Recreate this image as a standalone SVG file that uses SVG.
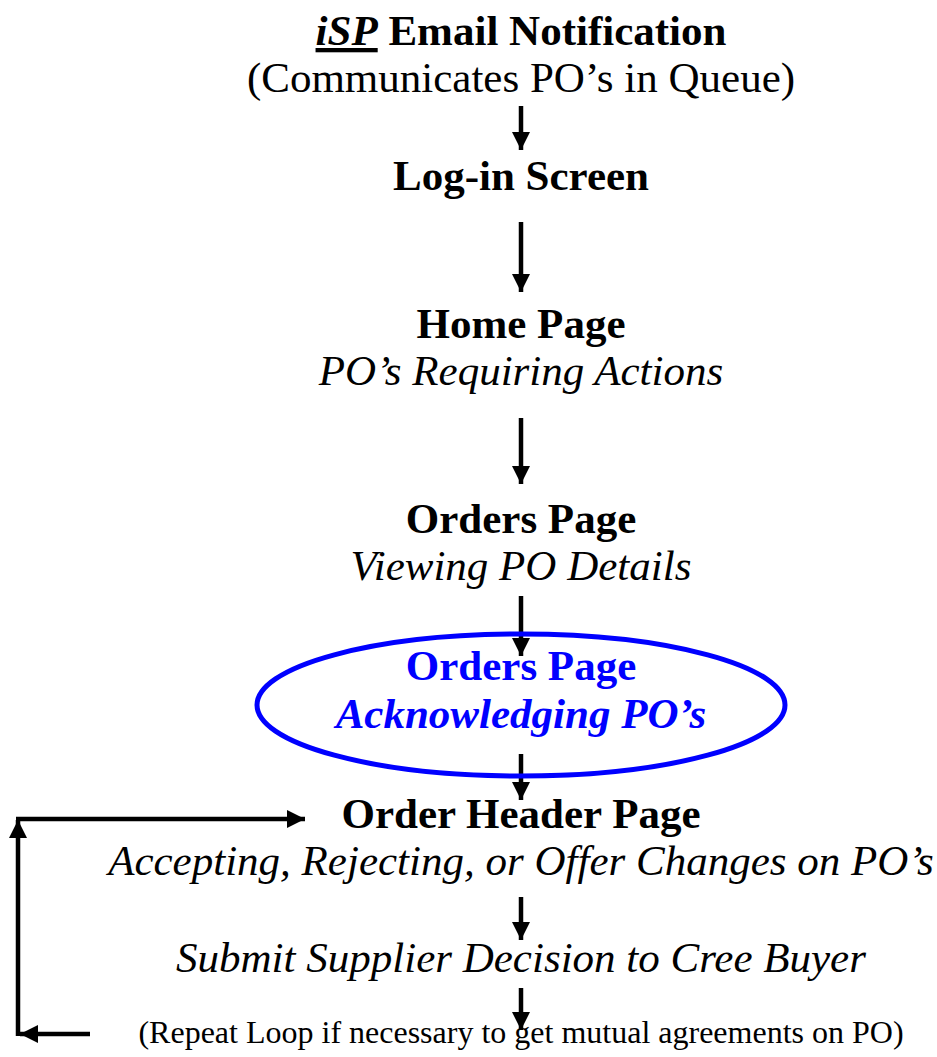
<svg xmlns="http://www.w3.org/2000/svg" width="937" height="1057" viewBox="0 0 937 1057">
<style>
text{font-family:"Liberation Serif","Times New Roman",serif;font-size:43px;text-anchor:middle;fill:#000}
.b{font-weight:bold}
.i{font-style:italic}
.blue{fill:#0000ff}
.small{font-size:32px}
.conn{stroke:#000;stroke-width:4.5;fill:none}
</style>
<defs>
<marker id="ah" markerUnits="userSpaceOnUse" markerWidth="18" markerHeight="18" refX="16" refY="8" orient="auto" viewBox="0 0 16 16">
<path d="M0,0 L16,8 L0,16 z" fill="#000"/>
</marker>
</defs>
<rect width="937" height="1057" fill="#fff"/>
<g id="connectors">
<line class="conn" x1="521" y1="106" x2="521" y2="150" marker-end="url(#ah)"/>
<line class="conn" x1="521" y1="222" x2="521" y2="292" marker-end="url(#ah)"/>
<line class="conn" x1="521" y1="418" x2="521" y2="484" marker-end="url(#ah)"/>
<line class="conn" x1="521" y1="596" x2="521" y2="656" marker-end="url(#ah)"/>
<line class="conn" x1="521" y1="754" x2="521" y2="800" marker-end="url(#ah)"/>
<line class="conn" x1="521" y1="897" x2="521" y2="940" marker-end="url(#ah)"/>
<line class="conn" x1="521" y1="988" x2="521" y2="1030" marker-end="url(#ah)"/>
<line class="conn" x1="90" y1="1034" x2="20" y2="1034" marker-end="url(#ah)"/>
<line class="conn" x1="18" y1="1036" x2="18" y2="820" marker-end="url(#ah)"/>
<line class="conn" x1="16" y1="819" x2="305" y2="819" marker-end="url(#ah)"/>
</g>
<g id="email">
<text x="521" y="45" class="b"><tspan class="i" text-decoration="underline">iSP</tspan> Email Notification</text>
<text x="521" y="92">(Communicates PO’s in Queue)</text>
</g>
<g id="login">
<text x="521" y="190" class="b">Log-in Screen</text>
</g>
<g id="home">
<text x="521" y="338" class="b">Home Page</text>
<text x="521" y="385" class="i">PO’s Requiring Actions</text>
</g>
<g id="orders-view">
<text x="521" y="533" class="b">Orders Page</text>
<text x="521" y="580" class="i">Viewing PO Details</text>
</g>
<g id="orders-ack">
<ellipse cx="521" cy="705" rx="264" ry="71" fill="none" stroke="#0000ff" stroke-width="5"/>
<text x="521" y="680" class="b blue">Orders Page</text>
<text x="521" y="728" class="b i blue">Acknowledging PO’s</text>
</g>
<g id="order-header">
<text x="521" y="828" class="b">Order Header Page</text>
<text x="521" y="875" class="i">Accepting, Rejecting, or Offer Changes on PO’s</text>
</g>
<g id="submit">
<text x="521" y="972" class="i">Submit Supplier Decision to Cree Buyer</text>
</g>
<g id="repeat">
<text x="521" y="1043" class="small">(Repeat Loop if necessary to get mutual agreements on PO)</text>
</g>
</svg>
